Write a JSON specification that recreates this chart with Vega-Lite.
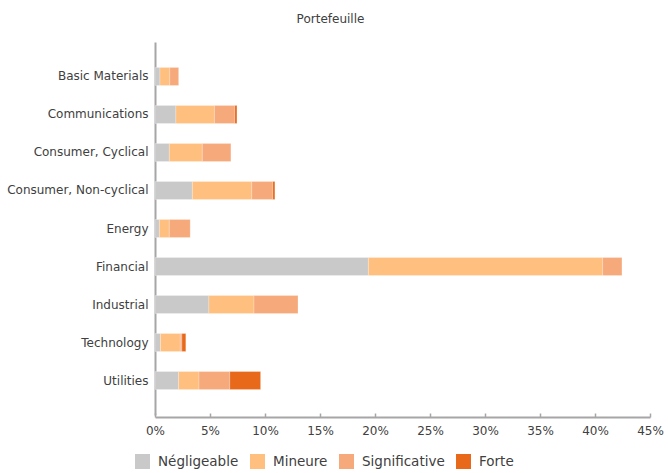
{
  "$schema": "https://vega.github.io/schema/vega-lite/v6.json",
  "width": 495,
  "height": 373,
  "autosize": {"type": "none"},
  "padding": {"left": 155, "top": 42, "right": 18, "bottom": 58},
  "background": "white",
  "title": {
    "text": "Portefeuille",
    "anchor": "middle",
    "dx": -72,
    "offset": 16,
    "fontSize": 12,
    "fontWeight": "normal",
    "font": "DejaVu Sans",
    "color": "#404040"
  },
  "data": {
    "values": [
      {"secteur": "Basic Materials", "niveau": "Négligeable", "ordre": 1, "part": 0.0045},
      {"secteur": "Basic Materials", "niveau": "Mineure", "ordre": 2, "part": 0.009},
      {"secteur": "Basic Materials", "niveau": "Significative", "ordre": 3, "part": 0.008},
      {"secteur": "Communications", "niveau": "Négligeable", "ordre": 1, "part": 0.019},
      {"secteur": "Communications", "niveau": "Mineure", "ordre": 2, "part": 0.035},
      {"secteur": "Communications", "niveau": "Significative", "ordre": 3, "part": 0.0185},
      {"secteur": "Communications", "niveau": "Forte", "ordre": 4, "part": 0.002},
      {"secteur": "Consumer, Cyclical", "niveau": "Négligeable", "ordre": 1, "part": 0.013},
      {"secteur": "Consumer, Cyclical", "niveau": "Mineure", "ordre": 2, "part": 0.03},
      {"secteur": "Consumer, Cyclical", "niveau": "Significative", "ordre": 3, "part": 0.026},
      {"secteur": "Consumer, Non-cyclical", "niveau": "Négligeable", "ordre": 1, "part": 0.034},
      {"secteur": "Consumer, Non-cyclical", "niveau": "Mineure", "ordre": 2, "part": 0.054},
      {"secteur": "Consumer, Non-cyclical", "niveau": "Significative", "ordre": 3, "part": 0.019},
      {"secteur": "Consumer, Non-cyclical", "niveau": "Forte", "ordre": 4, "part": 0.002},
      {"secteur": "Energy", "niveau": "Négligeable", "ordre": 1, "part": 0.004},
      {"secteur": "Energy", "niveau": "Mineure", "ordre": 2, "part": 0.009},
      {"secteur": "Energy", "niveau": "Significative", "ordre": 3, "part": 0.019},
      {"secteur": "Financial", "niveau": "Négligeable", "ordre": 1, "part": 0.194},
      {"secteur": "Financial", "niveau": "Mineure", "ordre": 2, "part": 0.213},
      {"secteur": "Financial", "niveau": "Significative", "ordre": 3, "part": 0.0175},
      {"secteur": "Industrial", "niveau": "Négligeable", "ordre": 1, "part": 0.049},
      {"secteur": "Industrial", "niveau": "Mineure", "ordre": 2, "part": 0.041},
      {"secteur": "Industrial", "niveau": "Significative", "ordre": 3, "part": 0.04},
      {"secteur": "Technology", "niveau": "Négligeable", "ordre": 1, "part": 0.005},
      {"secteur": "Technology", "niveau": "Mineure", "ordre": 2, "part": 0.018},
      {"secteur": "Technology", "niveau": "Significative", "ordre": 3, "part": 0.0015},
      {"secteur": "Technology", "niveau": "Forte", "ordre": 4, "part": 0.0035},
      {"secteur": "Utilities", "niveau": "Négligeable", "ordre": 1, "part": 0.0215},
      {"secteur": "Utilities", "niveau": "Mineure", "ordre": 2, "part": 0.0185},
      {"secteur": "Utilities", "niveau": "Significative", "ordre": 3, "part": 0.028},
      {"secteur": "Utilities", "niveau": "Forte", "ordre": 4, "part": 0.028}
    ]
  },
  "mark": {"type": "bar", "stroke": "white", "strokeWidth": 0.4, "strokeOpacity": 0.6},
  "encoding": {
    "y": {
      "field": "secteur",
      "type": "nominal",
      "sort": null,
      "scale": {"paddingInner": 0.526, "paddingOuter": 0.67},
      "axis": {
        "title": null,
        "ticks": false,
        "labelPadding": 7,
        "labelFontSize": 12,
        "labelFont": "DejaVu Sans",
        "labelColor": "#404040",
        "domainColor": "#a6a6a6",
        "domainWidth": 2
      }
    },
    "x": {
      "field": "part",
      "type": "quantitative",
      "stack": "zero",
      "scale": {"domain": [0, 0.45], "nice": false},
      "axis": {
        "title": null,
        "format": ".0%",
        "values": [0, 0.05, 0.1, 0.15, 0.2, 0.25, 0.3, 0.35, 0.4, 0.45],
        "grid": false,
        "offset": 2,
        "tickSize": -4,
        "tickColor": "#a6a6a6",
        "tickWidth": 1.5,
        "labelFlush": false,
        "labelPadding": 12,
        "labelFontSize": 12,
        "labelFont": "DejaVu Sans",
        "labelColor": "#404040",
        "domainColor": "#a6a6a6",
        "domainWidth": 2
      }
    },
    "color": {
      "field": "niveau",
      "type": "nominal",
      "scale": {
        "domain": ["Négligeable", "Mineure", "Significative", "Forte"],
        "range": ["#c9c9c9", "#ffbf7e", "#f6a97a", "#e8691a"]
      },
      "legend": {
        "title": null,
        "orient": "none",
        "direction": "horizontal",
        "legendX": -20,
        "legendY": 412,
        "symbolType": "square",
        "symbolSize": 225,
        "symbolStrokeWidth": 0,
        "labelFontSize": 13.5,
        "labelFont": "DejaVu Sans",
        "labelColor": "#404040",
        "labelOffset": 8,
        "columnPadding": 11
      }
    },
    "order": {"field": "ordre", "type": "quantitative"}
  },
  "config": {"view": {"stroke": null}}
}
